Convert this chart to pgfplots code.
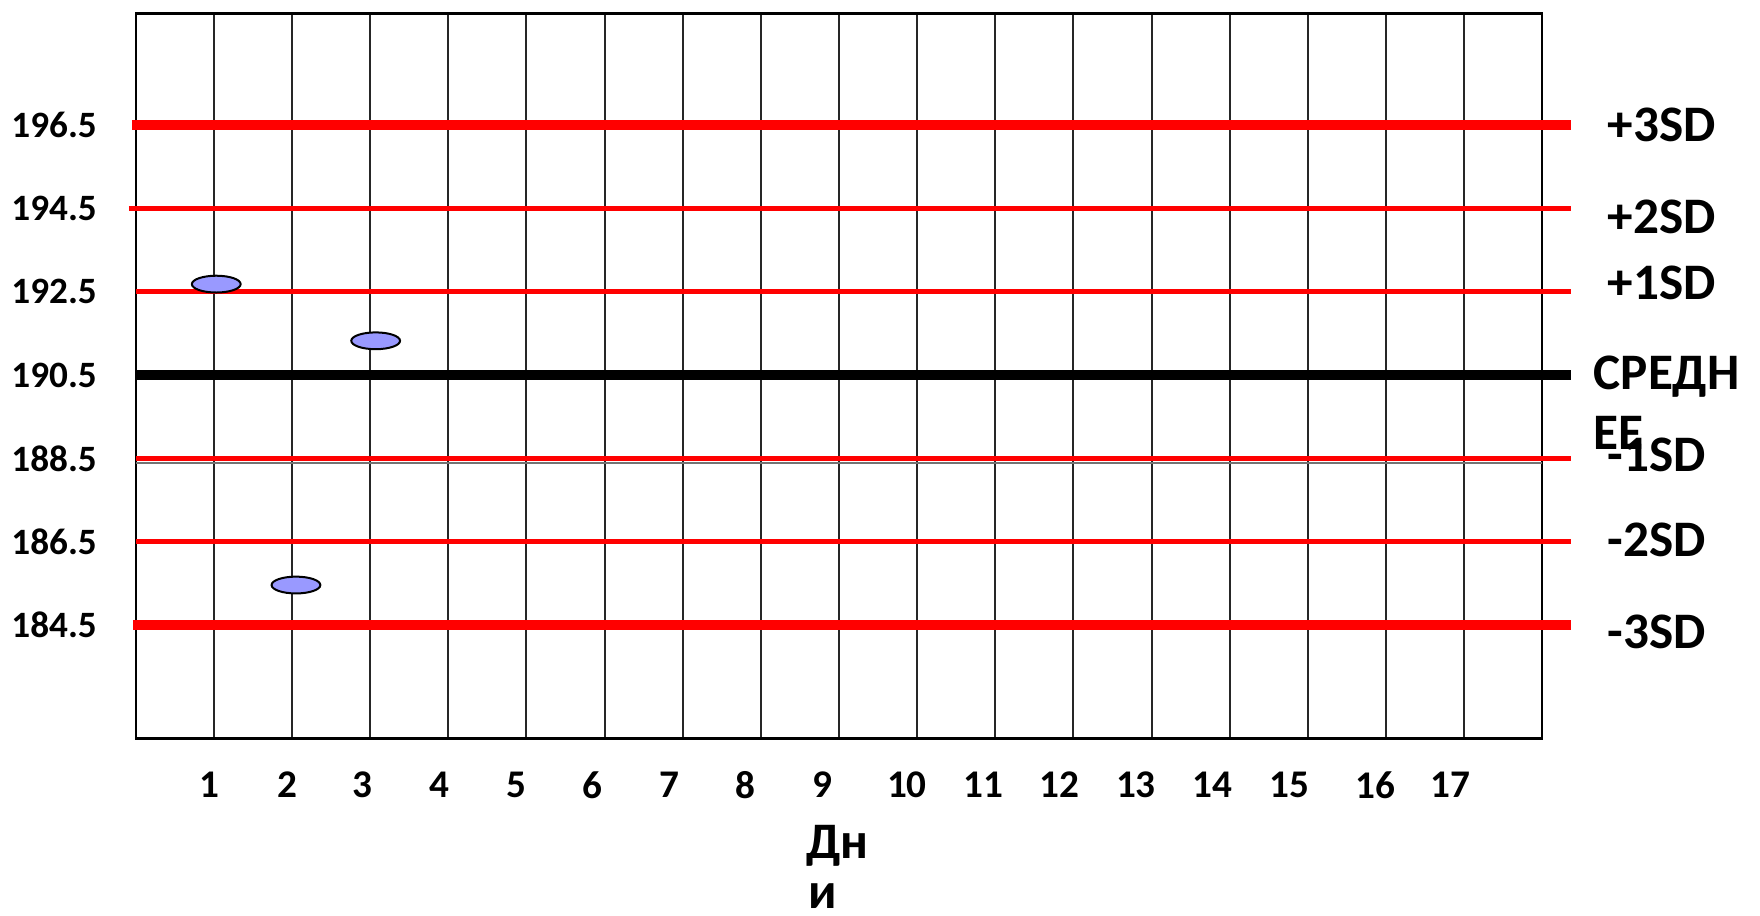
\documentclass[border=0pt]{standalone}
\usepackage{fontspec}
\setmainfont{Carlito}
\usepackage{pgfplots}
\pgfplotsset{compat=1.18}

\definecolor{markblue}{HTML}{9999FF}

% flat ellipse mark for the control values
\pgfdeclareplotmark{ell}{%
  \pgfpathellipse{\pgfpointorigin}{\pgfpoint{6.1pt}{0pt}}{\pgfpoint{0pt}{2.1pt}}%
  \pgfusepathqfillstroke}

\begin{document}
\begin{tikzpicture}
  \useasboundingbox (-33.95pt,-44.2pt) rectangle (406.05pt,184.6pt);
  \begin{axis}[
    scale only axis,
    width=351.6pt, height=181.2pt,
    xmin=0, xmax=18,
    ymin=181.78, ymax=199.17,
    clip=false,
    axis line style={black, line width=0.6pt},
    xtick={1,...,17},
    xticklabels={},
    xmajorgrids,
    major grid style={black!85, line width=0.5pt},
    major tick length=0pt,
    extra x ticks={0.948,1.94,2.90,3.89,4.87,5.85,6.83,7.80,8.79,9.87,10.85,11.82,12.80,13.78,14.77,15.86,16.82},
    extra x tick labels={1,2,3,4,5,6,7,8,9,10,11,12,13,14,15,16,17},
    extra x tick style={grid=none, major tick length=0pt,
      xticklabel style={anchor=center, inner sep=0pt, yshift=-11.6pt,
        font=\fontsize{9.8pt}{11pt}\selectfont\bfseries}},
    ytick={184.5,186.5,188.5,190.5,192.5,194.5,196.5},
    yticklabel style={anchor=east, inner sep=0pt, xshift=-9.55pt,
      font=\fontsize{9.3pt}{11pt}\selectfont\bfseries},
    /pgf/number format/.cd, fixed, fixed zerofill, precision=1, assume math mode=true,
  ]
    % thin grey separator under -1SD
    \addplot [black!55, line width=0.7pt] coordinates {(0,188.39) (18,188.39)};

    % control values
    \addplot [only marks, mark=ell, mark options={fill=markblue, draw=black, line width=0.5pt}]
      coordinates {(1.03,192.68) (2.05,185.46) (3.07,191.32)};

    % control limits
    \addplot [red, line width=2.5pt] coordinates {(-0.05,196.5) (18.37,196.5)};
    \addplot [red, line width=1.25pt] coordinates {(-0.09,194.5) (18.37,194.5)};
    \addplot [red, line width=1.4pt] coordinates {(0,192.5) (18.37,192.5)};
    \addplot [black, line width=2.7pt] coordinates {(0,190.5) (18.37,190.5)};
    \addplot [red, line width=1.25pt] coordinates {(0,188.5) (18.37,188.5)};
    \addplot [red, line width=1.25pt] coordinates {(0,186.5) (18.37,186.5)};
    \addplot [red, line width=2.5pt] coordinates {(-0.03,184.5) (18.37,184.5)};

    \begin{scope}[every node/.style={anchor=west, inner sep=0pt, text depth=0pt,
        font=\fontsize{12.8pt}{14pt}\selectfont\bfseries}]
      \node at (axis cs:18.83,196.5) {+3SD};
      \node at (axis cs:18.83,194.29) {+2SD};
      \node at (axis cs:18.83,192.71) {+1SD};
      \node at (axis cs:18.65,190.55) {СРЕДН};
      \node at (axis cs:18.65,189.11) {ЕЕ};
      \node at (axis cs:18.83,188.58) {-1SD};
      \node at (axis cs:18.83,186.54) {-2SD};
      \node at (axis cs:18.83,184.33) {-3SD};
    \end{scope}

    \node [anchor=base west, inner sep=0pt, font=\fontsize{12.8pt}{14pt}\selectfont\bfseries]
      at ([yshift=-30.1pt]rel axis cs:0.476,0) {Дн};
    \node [anchor=base west, inner sep=0pt, font=\fontsize{12.8pt}{14pt}\selectfont\bfseries]
      at ([yshift=-42.6pt]rel axis cs:0.478,0) {и};
  \end{axis}
\end{tikzpicture}
\end{document}
